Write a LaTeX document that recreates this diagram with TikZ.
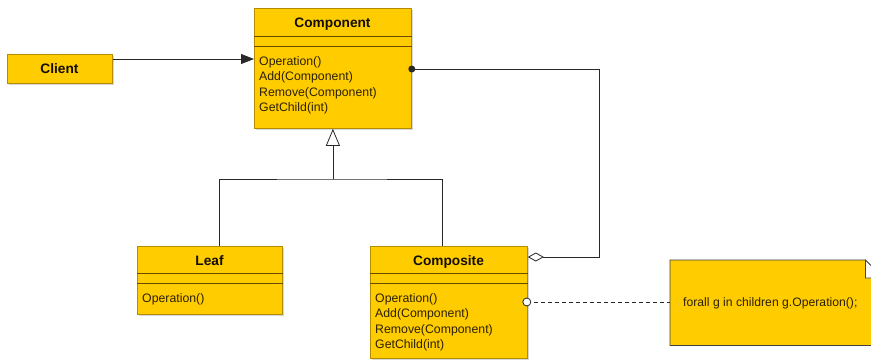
\documentclass[tikz,border=0pt]{standalone}
\usepackage{fontspec}
\setmainfont{Liberation Sans}
\usetikzlibrary{arrows.meta,shadows}

\definecolor{classfill}{RGB}{255,204,0}
\definecolor{classedge}{RGB}{180,140,0}
\definecolor{sepcolor}{RGB}{105,75,0}
\definecolor{membercolor}{RGB}{45,33,0}
\definecolor{titlecolor}{RGB}{20,14,0}
\definecolor{wirecolor}{RGB}{40,40,40}

\begin{document}
\begin{tikzpicture}[x=1pt,y=-1pt,
  classbox/.style={draw=classedge, fill=classfill, line width=0.8pt,
    anchor=north west, inner sep=0pt,
    drop shadow={shadow xshift=1.5pt, shadow yshift=-1.5pt, fill=black!30, opacity=0.5}},
  classtitle/.style={font=\fontsize{13.7}{16}\selectfont\bfseries, text=titlecolor,
    inner sep=0pt, anchor=base},
  members/.style={font=\fontsize{12.3}{15.3}\selectfont, text=membercolor, align=left,
    anchor=north west, inner sep=0pt},
  sepline/.style={draw=sepcolor, line width=0.8pt},
  wire/.style={draw=wirecolor, line width=0.8pt},
  noteedge/.style={draw=black!75, line width=0.8pt},
]
\useasboundingbox (0,0) rectangle (871,360);
\clip (0,0) rectangle (871,360);

% ---- Client
\node[classbox, minimum width=105pt, minimum height=29pt] (client) at (7,54) {};
\node[classtitle] (clienttitle) at (59.5,73.4) {Client};

% ---- Component
\node[classbox, minimum width=157pt, minimum height=120pt] (comp) at (254,8) {};
\node[classtitle] (comptitle) at (332.5,27) {Component};
\draw[sepline] ([yshift=-28pt]comp.north west) -- ([yshift=-28pt]comp.north east);
\draw[sepline] ([yshift=-38pt]comp.north west) -- ([yshift=-38pt]comp.north east);
\node[members] (compops) at (259,56.3)
  {Operation()\\Add(Component)\\Remove(Component)\\GetChild(int)};

% ---- Leaf
\node[classbox, minimum width=145pt, minimum height=68pt] (leaf) at (137,246) {};
\node[classtitle] (leaftitle) at (209.5,265) {Leaf};
\draw[sepline] ([yshift=-27pt]leaf.north west) -- ([yshift=-27pt]leaf.north east);
\draw[sepline] ([yshift=-37pt]leaf.north west) -- ([yshift=-37pt]leaf.north east);
\node[members] (leafops) at (142,293.3) {Operation()};

% ---- Composite
\node[classbox, minimum width=157pt, minimum height=112pt] (composite) at (370,246) {};
\node[classtitle] (compositetitle) at (448.5,265) {Composite};
\draw[sepline] ([yshift=-27pt]composite.north west) -- ([yshift=-27pt]composite.north east);
\draw[sepline] ([yshift=-37pt]composite.north west) -- ([yshift=-37pt]composite.north east);
\node[members] (compositeops) at (375,293.3)
  {Operation()\\Add(Component)\\Remove(Component)\\GetChild(int)};

% ---- Note with folded corner
\node[minimum width=213pt, minimum height=85pt, anchor=north west, inner sep=0pt] (note) at (670,260) {};
\draw[noteedge, fill=classfill] (note.north west) -- ([xshift=-18pt]note.north east)
  -- ([yshift=-18pt]note.north east) -- (note.south east) -- (note.south west) -- cycle;
\draw[noteedge, fill=white] ([xshift=-18pt]note.north east)
  -- ([xshift=-18pt,yshift=-18pt]note.north east) -- ([yshift=-18pt]note.north east) -- cycle;
\node[font=\fontsize{12.2}{15}\selectfont, text=membercolor, anchor=west, inner sep=0pt]
  (notetext) at (683,303.5) {forall g in children g.Operation();};

% ---- Client uses Component
\coordinate (clientport) at ([yshift=-5pt]client.north east);
\draw[wire, -{Triangle[length=13pt, width=10pt]}] (clientport) -- (clientport -| comp.west);

% ---- Generalization: Leaf and Composite derive from Component
\coordinate (leafport) at ([xshift=9.5pt]leaf.north);
\coordinate (compositeport) at ([xshift=-6.5pt]composite.north);
\coordinate (genjoin) at (comp.south |- 0,179);
\draw[wire] (leafport) |- (genjoin) -| (compositeport);
\draw[wire, -{Triangle[length=17pt, width=14pt, fill=white]}] (genjoin) -- (comp.south);

% ---- Aggregation: Composite holds children of type Component
\coordinate (aggport) at ([yshift=-11pt]composite.north east);
\coordinate (ownport) at ([yshift=-61pt]comp.north east);
\coordinate (aggbend) at ([xshift=188pt]ownport);
\draw[wire, {Diamond[length=16pt, width=9pt, fill=white]}-] (aggport) -| (aggbend) -- (ownport);
\fill[wirecolor] (ownport) circle (3.5pt);

% ---- Note attached to Composite::Operation
\coordinate (noteport) at ([xshift=-1pt,yshift=-56pt]composite.north east);
\draw[wire, dash pattern=on 4pt off 3pt] (noteport) -- (noteport -| note.west);
\draw[wire, fill=white] (noteport) circle (4pt);
\end{tikzpicture}
\end{document}
